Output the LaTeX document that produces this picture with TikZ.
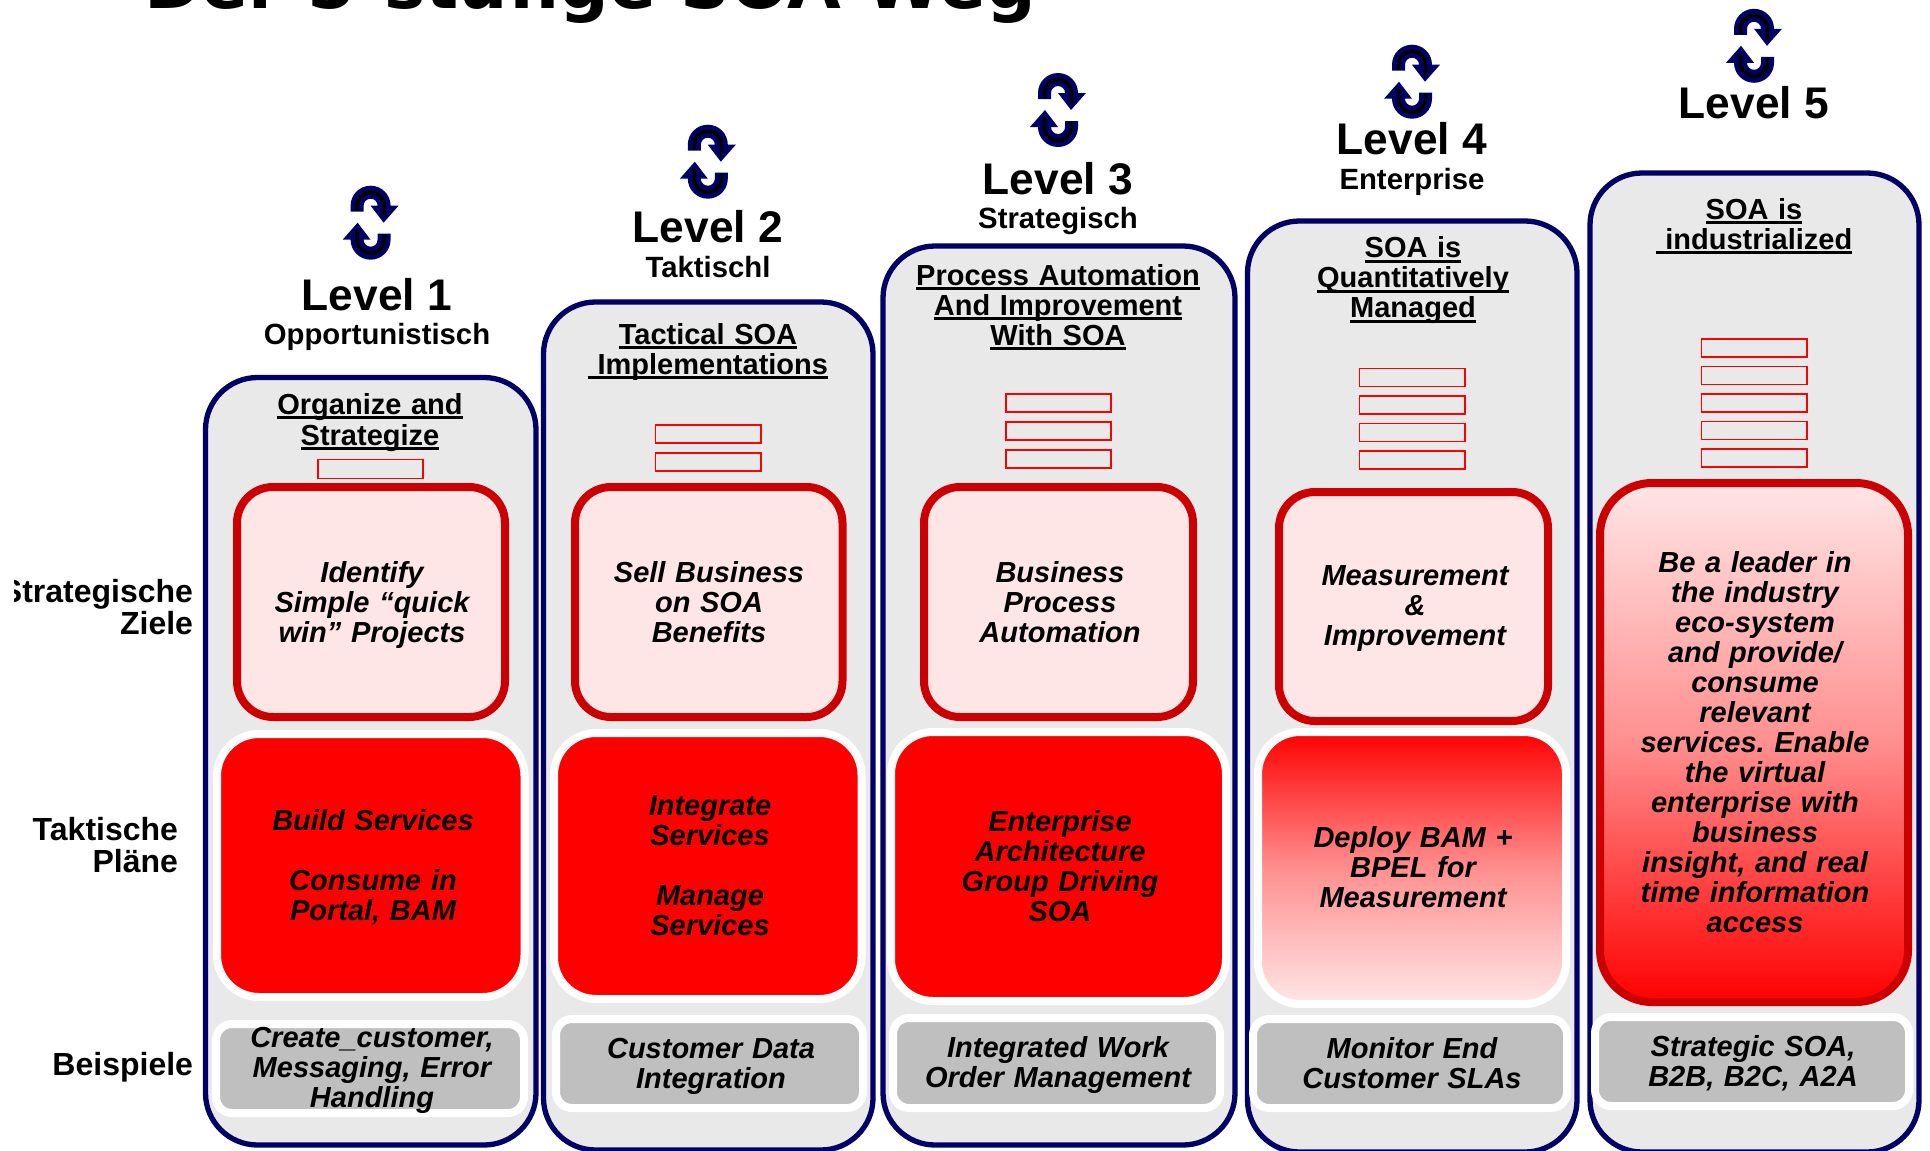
\documentclass[tikz,border=0pt]{standalone}
\usepackage{fontspec}
\setmainfont{Liberation Sans}
\newfontfamily\titlefont{DejaVu Sans}
\definecolor{navyc}{HTML}{000066}
\definecolor{darkred}{HTML}{CC0000}
\definecolor{pale}{HTML}{FFE6E6}
\definecolor{colgray}{HTML}{E9E9E9}
\definecolor{exgray}{HTML}{BFBFBF}
\definecolor{pure}{HTML}{FF0000}
\newcommand\ulx[1]{\leavevmode\setbox0=\hbox{#1}\rlap{\rule[-5pt]{\wd0}{3pt}}\box0\relax}
\newcommand\bx[6]{%
  \pgfmathsetmacro\bw{#4-#2}\pgfmathsetmacro\bh{#5-#3}%
  \pgfmathsetmacro\bcx{(#4+#2)/2}\pgfmathsetmacro\bcy{(#5+#3)/2}%
  \node[#6,minimum width=\bw pt,minimum height=\bh pt] (#1) at (\bcx,\bcy) {};}
\newcommand\swirl[2]{%
  \foreach \ang in {0,180}{
  \begin{scope}[shift={(#1,#2)},rotate=\ang]
    \fill[navyc] (-20,-11) -- (-20,-17) arc[start angle=180,end angle=0,radius=20pt]
      -- (28,-17) -- (13,0) -- (0,-17) -- (7,-17)
      arc[start angle=0,end angle=180,radius=7pt] -- (-7,-11) -- cycle;
    \draw[black,line width=3.6pt] (-13.5,-12) -- (-13.5,-17)
      arc[start angle=180,end angle=0,radius=13.5pt] -- (13.5,-7);
  \end{scope}}}
\tikzset{
  every node/.style={inner sep=0pt,outer sep=0pt},
  colbox/.style={draw=navyc,line width=5.3pt,fill=colgray,rounded corners=52pt},
  goalbox/.style={draw=darkred,line width=8pt,fill=pale,rounded corners=36pt},
  planbox/.style={draw=white,line width=8pt,fill=pure,rounded corners=42pt},
  exbox/.style={draw=white,line width=8pt,fill=exgray,rounded corners=16pt},
  tick/.style={draw=pure,line width=1.6pt,fill=colgray},
  body/.style={anchor=base,text width=330pt,align=center,font=\bfseries\itshape\fontsize{29}{30}\selectfont},
  head/.style={anchor=base,text width=400pt,align=center,font=\bfseries\fontsize{29}{30}\selectfont},
  lvl/.style={anchor=base,font=\bfseries\fontsize{44.3}{46}\selectfont},
  sublvl/.style={anchor=base,font=\bfseries\fontsize{29.3}{30}\selectfont},
  side/.style={anchor=base east,text width=300pt,align=right,font=\bfseries\fontsize{32}{32.5}\selectfont},
  titletxt/.style={anchor=base west,font=\titlefont\bfseries\fontsize{69.4}{74}\selectfont}
}
\begin{document}
\frenchspacing
\begin{tikzpicture}[x=1pt,y=-1pt]
\useasboundingbox (0,0) rectangle (1930,1151);
\node[titletxt] (title) at (144,9) {Der 5-stufige SOA Weg};
% side labels
\begin{scope}
\clip (14,540) rectangle (300,700);
\node[side] (ziele) at (193,602) {Strategische\\Ziele};
\end{scope}
\node[side] (plaene) at (178,840) {Taktische\\Pläne};
\node[side] (beisp) at (193,1075.5) {Beispiele};
% columns
\bx{col1}{205.5}{377.5}{536}{1145}{colbox}
\bx{col2}{543.5}{302}{873}{1150}{colbox}
\bx{col3}{883}{246}{1235}{1145}{colbox}
\bx{col4}{1247.5}{221}{1577}{1152}{colbox}
\bx{col5}{1590}{173}{1919}{1152}{colbox}
% icons
\swirl{370.6}{222.7}
\swirl{707.8}{161.7}
\swirl{1058}{110}
\swirl{1412}{81.7}
\swirl{1754}{45.8}
% levels
\node[lvl] (l1) at (377,310) {Level 1};
\node[sublvl] (s1) at (377,344.5) {Opportunistisch};
\node[lvl] (l2) at (708,242.5) {Level 2};
\node[sublvl] (s2) at (708,277) {Taktischl};
\node[lvl] (l3) at (1058,194) {Level 3};
\node[sublvl] (s3) at (1058,228) {Strategisch};
\node[lvl] (l4) at (1412,154) {Level 4};
\node[sublvl] (s4) at (1412,189) {Enterprise};
\node[lvl] (l5) at (1754,118) {Level 5};
% headings
\node[head,font=\bfseries\fontsize{29}{31}\selectfont] (h1) at (370,414) {\ulx{Organize and}\hspace*{7pt}\\\ulx{Strategize}};
\node[head] (h2) at (708,344) {\ulx{Tactical SOA}\\\ulx{\ Implementations}};
\node[head] (h3) at (1058,285) {\ulx{Process Automation}\\\ulx{And Improvement}\\\ulx{With SOA}};
\node[head] (h4) at (1413,257.5) {\ulx{SOA is}\\\ulx{Quantitatively}\\\ulx{Managed}};
\node[head] (h5) at (1754,219) {\ulx{SOA is}\\\ulx{\ industrialized}};
% small bars
\bx{t11}{318}{459.5}{423}{478.5}{tick}
\bx{t21}{655.5}{425}{761}{443}{tick}
\bx{t22}{655.5}{453}{761}{471}{tick}
\bx{t31}{1006}{394}{1111}{412}{tick}
\bx{t32}{1006}{422}{1111}{440}{tick}
\bx{t33}{1006}{450}{1111}{468}{tick}
\bx{t41}{1359.5}{368.5}{1465}{386.5}{tick}
\bx{t42}{1359.5}{396}{1465}{414}{tick}
\bx{t43}{1359.5}{423.5}{1465}{441.5}{tick}
\bx{t44}{1359.5}{451}{1465}{469}{tick}
\bx{t51}{1701.5}{339}{1807}{357}{tick}
\bx{t52}{1701.5}{366.5}{1807}{384.5}{tick}
\bx{t53}{1701.5}{394}{1807}{412}{tick}
\bx{t54}{1701.5}{421.5}{1807}{439.5}{tick}
\bx{t55}{1701.5}{449}{1807}{467}{tick}
% goals
\bx{g1}{237}{487}{505}{717}{goalbox}
\bx{g2}{575}{487}{842.5}{717}{goalbox}
\bx{g3}{924}{487}{1193}{717}{goalbox}
\bx{g4}{1279}{492}{1548}{721}{goalbox}
\bx{g5}{1600}{483}{1908}{1002}{goalbox,rounded corners=52pt,top color=pale,bottom color=pure,middle color=pale!62!pure}
% plans
\bx{p1}{217}{734}{524.5}{997}{planbox}
\bx{p2}{554}{733}{861.5}{999}{planbox}
\bx{p3}{891}{732}{1226}{1001}{planbox}
\bx{p4}{1258}{732}{1566}{1004}{planbox,top color=pure,bottom color=pale,middle color=pure!38!pale}
% examples
\bx{e1}{216}{1024}{524}{1113}{exbox}
\bx{e2}{556}{1019}{863}{1108}{exbox}
\bx{e3}{893}{1018}{1220}{1108}{exbox}
\bx{e4}{1253}{1019}{1567}{1108}{exbox}
\bx{e5}{1595}{1017}{1909}{1106}{exbox}
% goal texts
\node[body] (gt1) at (372,582) {Identify\\Simple “quick\\win” Projects};
\node[body] (gt2) at (709,582) {Sell Business\\on SOA\\Benefits};
\node[body] (gt3) at (1060,582) {Business\\Process\\Automation};
\node[body] (gt4) at (1415,585.5) {Measurement\\\&\\Improvement};
\node[body] (gt5) at (1755,572) {Be a leader in\\the industry\\eco-system\\and provide/\\consume\\relevant\\services. Enable\\the virtual\\enterprise with\\business\\insight, and real\\time information\\access};
% plan texts
\node[body] (pt1) at (373,830) {Build Services\\\mbox{}\\Consume in\\Portal, BAM};
\node[body] (pt2) at (710,815) {Integrate\\Services\\\mbox{}\\Manage\\Services};
\node[body] (pt3) at (1060,831) {Enterprise\\Architecture\\Group Driving\\SOA};
\node[body] (pt4) at (1413,847) {Deploy BAM +\\BPEL for\\Measurement};
% example texts
\node[body] (et1) at (372,1047) {Create\_customer,\\Messaging, Error\\Handling};
\node[body] (et2) at (711,1058) {Customer Data\\Integration};
\node[body] (et3) at (1058,1057) {Integrated Work\\Order Management};
\node[body] (et4) at (1412,1058) {Monitor End\\Customer SLAs};
\node[body] (et5) at (1753,1056) {Strategic SOA,\\B2B, B2C, A2A};
\end{tikzpicture}
\end{document}
